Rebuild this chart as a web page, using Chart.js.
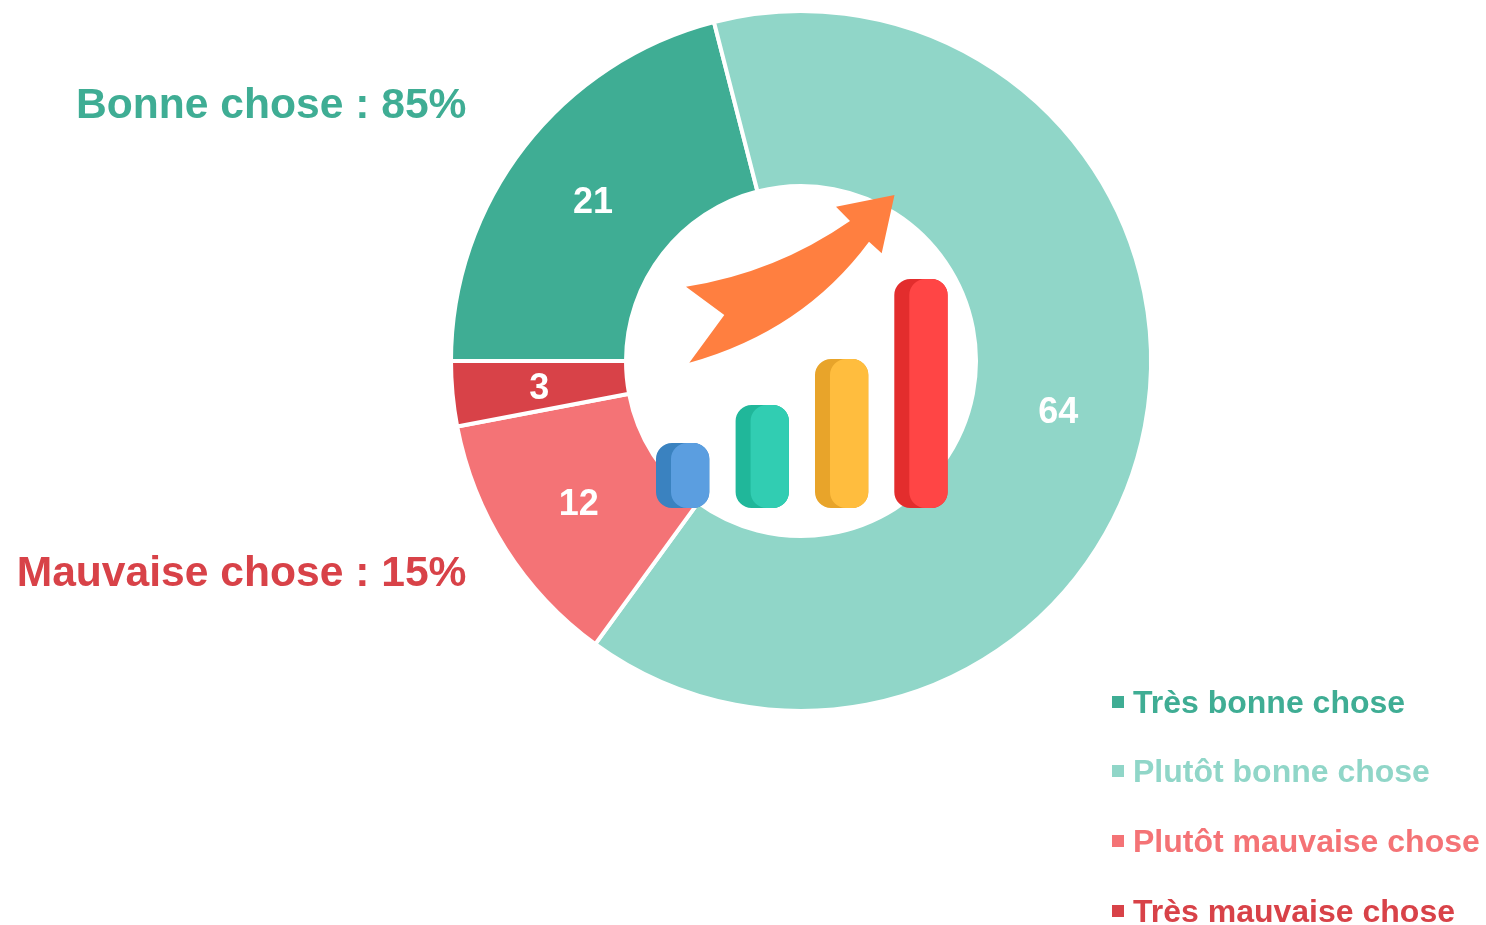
<!DOCTYPE html>
<html><head><meta charset="utf-8">
<script src="https://cdn.jsdelivr.net/npm/chart.js@4"></script>
<style>
html,body{margin:0;padding:0;background:#fff;overflow:hidden}
#wrap{position:relative;width:1486px;height:925px}
canvas{position:absolute;left:0;top:0}
.t{position:absolute;font-family:"Liberation Sans",Arial,sans-serif;font-weight:700;white-space:nowrap;line-height:1}
.lab{font-size:42.6px;right:1019.5px}
.leg{font-size:32px;left:1133px}
.sw{position:absolute;left:1112px;width:12px;height:12px}
</style></head><body>
<div id="wrap"><canvas id="c" width="1486" height="925"></canvas></div>
<script>
const categories=["Très bonne chose","Plutôt bonne chose","Plutôt mauvaise chose","Très mauvaise chose"];
const values=[21,64,12,3];
const colors=["#3FAD94","#90D6C8","#F47376","#D84248"];
const summaryLabels=["Bonne chose : 85%","Mauvaise chose : 15%"];
const summaryColors=["#3FAD94","#D84248"];
const summaryTops=[82,550];
const legendTops=[686,755,825,895];

const wrap=document.getElementById('wrap');
summaryLabels.forEach((s,i)=>{const d=document.createElement('div');d.className='t lab';d.textContent=s;d.style.color=summaryColors[i];d.style.top=summaryTops[i]+'px';wrap.appendChild(d);});
categories.forEach((s,i)=>{
  const d=document.createElement('div');d.className='t leg';d.textContent=s;d.style.color=colors[i];d.style.top=legendTops[i]+'px';wrap.appendChild(d);
  const b=document.createElement('div');b.className='sw';b.style.background=colors[i];b.style.top=(legendTops[i]+10)+'px';wrap.appendChild(b);
});

function rr(c,x,y,w,h,r){c.beginPath();c.roundRect(x,y,w,h,r);c.closePath();}
const decoration={id:'decoration',afterDraw(chart){
  const c=chart.ctx;c.save();
  // bar icons
  [[656,443,53.3,65,"#3A82C0","#5B9EE0"],[735.6,405,53.3,103,"#20B79A","#31CDB2"],[815,359,53.3,149,"#E8A42A","#FFBD3E"],[894.3,279,53.3,229,"#E32D2D","#FF4545"]].forEach(b=>{
    rr(c,b[0],b[1],b[2],b[3],16);c.fillStyle=b[4];c.fill();
    rr(c,b[0]+15,b[1],b[2]-15,b[3],16);c.fillStyle=b[5];c.fill();
  });
  // arrow icon
  c.fillStyle="#FF7F40";c.beginPath();
  c.moveTo(894.5,195);c.lineTo(836,206.7);c.lineTo(850,221);
  c.quadraticCurveTo(775,273,686,286.7);
  c.lineTo(724.3,315);c.lineTo(689.3,362.7);
  c.quadraticCurveTo(803,331,869,241.7);
  c.lineTo(881.7,253.3);c.closePath();c.fill();
  c.restore();
}};
const valueLabels={id:'valueLabels',afterDatasetsDraw(chart){
  const c=chart.ctx,m=chart.getDatasetMeta(0);c.save();
  c.font='700 36px "Liberation Sans",Arial,sans-serif';c.fillStyle='#fff';c.textAlign='center';c.textBaseline='middle';
  m.data.forEach((a,i)=>{const p=a.tooltipPosition();c.fillText(values[i],p.x-0.5,p.y+3);});
  c.restore();
}};
new Chart(document.getElementById('c'),{
  type:'doughnut',
  data:{labels:categories,datasets:[{data:values,backgroundColor:colors,borderColor:'#fff',borderWidth:4,borderAlign:'center',spacing:0}]},
  options:{responsive:false,animation:false,cutout:'50%',rotation:-90,radius:350,
    layout:{padding:{left:450.5,right:334.5,top:10.5,bottom:213.5}},
    plugins:{legend:{display:false},tooltip:{enabled:false}}},
  plugins:[valueLabels,decoration]
});
</script></body></html>
